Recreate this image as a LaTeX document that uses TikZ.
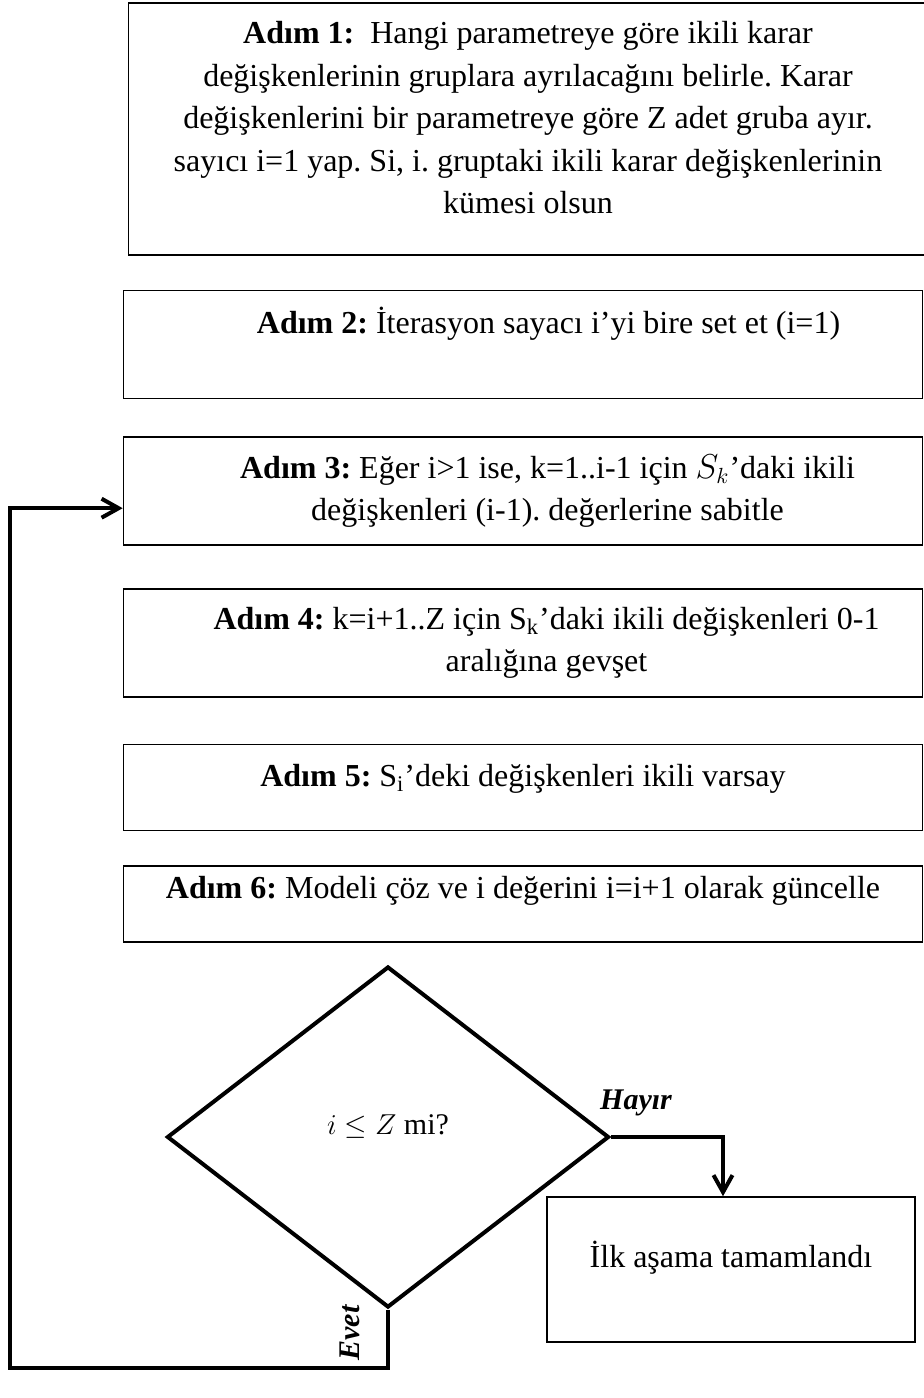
\documentclass[tikz,border=0pt]{standalone}
\usepackage{fontspec}
\setmainfont{Liberation Serif}
\usetikzlibrary{positioning,shapes.geometric,arrows.meta}
\frenchspacing

\begin{document}
\begin{tikzpicture}
[x=0.5pt,y=-0.5pt,>={Straight Barb[length=8.5pt,width=9.5pt]},
stepbox/.style={draw,rectangle,line width=0.8pt,minimum width=399.5pt,inner sep=0pt},
steptext/.style={align=center,inner sep=0pt,font=\fontsize{16}{21.25}\selectfont},
decision/.style={draw,diamond,line width=2pt,minimum width=221pt,minimum height=170.5pt,inner sep=0pt},
flow/.style={line width=2pt},
answer/.style={inner sep=0pt,font=\fontsize{15}{18}\selectfont\bfseries\itshape}]
\useasboundingbox (0,0) rectangle (924,1398);
\node[stepbox,minimum height=126pt](s1) at (528,129){};
\node[stepbox,minimum height=54pt,below=17pt of s1,xshift=-2.5pt](s2){};
\node[stepbox,minimum height=54pt,below=18.5pt of s2](s3){};
\node[stepbox,minimum height=54pt,below=21pt of s3](s4){};
\node[stepbox,minimum height=43pt,below=23pt of s4](s5){};
\node[stepbox,minimum height=38pt,below=17pt of s5](s6){};
\node[decision](dia) at (388,1137){};
\node[stepbox,minimum width=184pt,minimum height=72.5pt](fin) at (731,1269.5){};
\node[steptext](t1) at ([yshift=5.5pt]s1.center){\textbf{Adım 1:}\ \ Hangi parametreye göre ikili karar\\
değişkenlerinin gruplara ayrılacağını belirle. Karar\\
değişkenlerini bir parametreye göre Z adet gruba ayır.\\
sayıcı i=1 yap. Si, i. gruptaki ikili karar değişkenlerinin\\
kümesi olsun};
\node[steptext](t2) at ([xshift=12.75pt,yshift=10.5pt]s2.center){\textbf{Adım 2:} İterasyon sayacı i’yi bire set et (i=1)};
\node[steptext](t3) at ([xshift=12.25pt]s3.center){\textbf{Adım 3:} Eğer i>1 ise, k=1..i-1 için $S_k$’daki ikili\\
değişkenleri (i-1). değerlerine sabitle};
\node[steptext](t4) at ([xshift=11.75pt]s4.center){\textbf{Adım 4:} k=i+1..Z için S\textsubscript{k}’daki ikili değişkenleri 0-1\\
aralığına gevşet};
\node[steptext](t5) at ([yshift=4.5pt]s5.center){\textbf{Adım 5:} S\textsubscript{i}’deki değişkenleri ikili varsay};
\node[steptext](t6) at ([yshift=6.5pt]s6.center){\textbf{Adım 6:} Modeli çöz ve i değerini i=i+1 olarak güncelle};
\node[steptext,font=\fontsize{15}{18}\selectfont](q) at ([yshift=5pt]dia.center){$i\leq Z$ mi?};
\node[steptext](tfin) at ([yshift=5.75pt]fin.center){İlk aşama tamamlandı};
\node[answer](hayir) at (636,1103){Hayır};
\node[answer,rotate=90](evet) at (350,1333){Evet};
\coordinate (c1) at (10,1368);
\draw[flow,->] (dia.east) -| ([xshift=-4pt]fin.north);
\draw[flow,->] (dia.south) |- (c1) |- ([yshift=-8.5pt]s3.west);
\end{tikzpicture}
\end{document}
